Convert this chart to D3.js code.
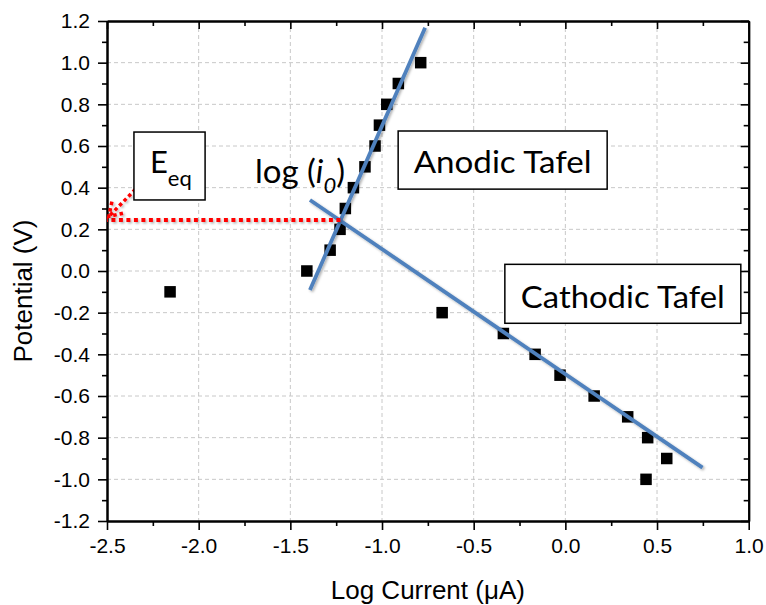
<!DOCTYPE html>
<html>
<head>
<meta charset="utf-8">
<script src="https://cdn.jsdelivr.net/npm/d3@7/dist/d3.min.js"></script>
<style>
  html, body { margin: 0; padding: 0; background: #fff; }
  svg { display: block; }
</style>
</head>
<body>
<svg id="chart" width="766" height="605"></svg>
<script>
// ---------------- data ----------------
const logCurrent = [-2.156, -1.41, -1.283, -1.229, -1.2, -1.156, -1.093, -1.038, -1.014, -0.974, -0.911, -0.789,
                    -0.672, -0.338, -0.165, -0.029, 0.157, 0.34, 0.449, 0.553, 0.44];
const potential  = [-0.1, 0.0, 0.1, 0.2, 0.3, 0.4, 0.5, 0.6, 0.7, 0.8, 0.9, 1.0,
                    -0.2, -0.3, -0.4, -0.5, -0.6, -0.7, -0.8, -0.9, -1.0];

const anodicFitX = [-1.393, -0.765];
const anodicFitY = [-0.091, 1.168];
const cathodicFitX = [-1.393, 0.748];
const cathodicFitY = [0.341, -0.944];

const xTickValues = [-2.5, -2.0, -1.5, -1.0, -0.5, 0.0, 0.5, 1.0];
const xTickLabels = ["-2.5", "-2.0", "-1.5", "-1.0", "-0.5", "0.0", "0.5", "1.0"];
const xMinorValues = [-2.25, -1.75, -1.25, -0.75, -0.25, 0.25, 0.75];
const yTickValues = [-1.2, -1.0, -0.8, -0.6, -0.4, -0.2, 0.0, 0.2, 0.4, 0.6, 0.8, 1.0, 1.2];
const yTickLabels = ["-1.2", "-1.0", "-0.8", "-0.6", "-0.4", "-0.2", "0.0", "0.2", "0.4", "0.6", "0.8", "1.0", "1.2"];
const yMinorValues = [-1.1, -0.9, -0.7, -0.5, -0.3, -0.1, 0.1, 0.3, 0.5, 0.7, 0.9, 1.1];

const xTitle = "Log Current (\u03BCA)";
const yTitle = "Potential (V)";

// annotations (data units)
const eqLevel = 0.245;            // equilibrium potential guide
const i0Log = -1.227;              // intersection of Tafel lines
const eqArrowFrom = [-2.345, 0.392];
const eqArrowTo = [-2.49, 0.262];
const boxEq = {x0: -2.353, x1: -1.965, y0: 0.667, y1: 0.341};
const boxAnodic = {x0: -0.912, x1: 0.228, y0: 0.672, y1: 0.393, label: "Anodic Tafel"};
const boxCathodic = {x0: -0.330, x1: 0.957, y0: 0.032, y1: -0.251, label: "Cathodic Tafel"};

// ---------------- layout ----------------
const svg = d3.select("#chart");
const L = 107, R = 748.7, T = 21, B = 521;
const x = d3.scaleLinear().domain([-2.5, 1.0]).range([L, R]);
const y = d3.scaleLinear().domain([-1.2, 1.2]).range([B, T]);

const tickFont = "'Liberation Sans', Arial, sans-serif";
const annFont = "Lato, 'Open Sans', sans-serif";

const defs = svg.append("defs");
const f = defs.append("filter").attr("id", "shadow").attr("filterUnits", "userSpaceOnUse")
  .attr("x", 0).attr("y", 0).attr("width", 766).attr("height", 605);
f.append("feDropShadow").attr("dx", 1.5).attr("dy", 1.5).attr("stdDeviation", 1.2)
  .attr("flood-color", "#000").attr("flood-opacity", 0.3);

// grid
const grid = svg.append("g").attr("stroke", "#c8c8c8").attr("stroke-width", 1).attr("stroke-dasharray", "4,3");
grid.selectAll("line.gx").data(xTickValues.slice(1, -1)).join("line")
  .attr("x1", d => x(d)).attr("x2", d => x(d)).attr("y1", T).attr("y2", B);
grid.selectAll("line.gy").data(yTickValues.slice(1, -1)).join("line")
  .attr("x1", L).attr("x2", R).attr("y1", d => y(d)).attr("y2", d => y(d));

// axes
function styleAxis(g) {
  g.selectAll("path.domain").attr("stroke", "#000").attr("stroke-width", 2);
  g.selectAll(".tick line").attr("stroke", "#000").attr("stroke-width", 1.6);
  g.selectAll("text").attr("font-family", tickFont).attr("font-size", 21).attr("fill", "#000");
}
const fmtX = d => xTickLabels[xTickValues.indexOf(d)];
const fmtY = d => yTickLabels[yTickValues.indexOf(d)];

svg.append("g").attr("transform", `translate(0,${B})`)
  .call(d3.axisBottom(x).tickValues(xTickValues).tickFormat(fmtX).tickSize(9).tickSizeOuter(0).tickPadding(8))
  .call(styleAxis);
svg.append("g").attr("transform", `translate(0,${B})`)
  .call(d3.axisBottom(x).tickValues(xMinorValues).tickFormat("").tickSize(5).tickSizeOuter(0))
  .call(styleAxis);
svg.append("g").attr("transform", `translate(${L},0)`)
  .call(d3.axisLeft(y).tickValues(yTickValues).tickFormat(fmtY).tickSize(9).tickSizeOuter(0).tickPadding(8))
  .call(styleAxis);
svg.append("g").attr("transform", `translate(${L},0)`)
  .call(d3.axisLeft(y).tickValues(yMinorValues).tickFormat("").tickSize(5).tickSizeOuter(0))
  .call(styleAxis);
svg.append("g").attr("transform", `translate(0,${T})`)
  .call(d3.axisTop(x).tickValues(xTickValues).tickFormat("").tickSize(-8).tickSizeOuter(0))
  .call(styleAxis);
svg.append("g").attr("transform", `translate(0,${T})`)
  .call(d3.axisTop(x).tickValues(xMinorValues).tickFormat("").tickSize(-5).tickSizeOuter(0))
  .call(styleAxis);
svg.append("g").attr("transform", `translate(${R},0)`)
  .call(d3.axisRight(y).tickValues(yTickValues).tickFormat("").tickSize(-8).tickSizeOuter(0))
  .call(styleAxis);
svg.append("g").attr("transform", `translate(${R},0)`)
  .call(d3.axisRight(y).tickValues(yMinorValues).tickFormat("").tickSize(-5).tickSizeOuter(0))
  .call(styleAxis);

// titles
svg.append("text").attr("x", (L + R) / 2).attr("y", 599).attr("text-anchor", "middle")
  .attr("font-family", tickFont).attr("font-size", 26).text(xTitle);
svg.append("text").attr("transform", `translate(32,291) rotate(-90)`).attr("text-anchor", "middle")
  .attr("font-family", tickFont).attr("font-size", 26).text(yTitle);

// data points
const pts = logCurrent.map((v, i) => ({x: v, y: potential[i]}));
const ms = 11.5;
svg.append("g").selectAll("rect").data(pts).join("rect")
  .attr("x", d => x(d.x) - ms / 2).attr("y", d => y(d.y) - ms / 2)
  .attr("width", ms).attr("height", ms).attr("fill", "#000");

// Tafel fit lines
const line = d3.line().x(d => x(d[0])).y(d => y(d[1]));
const blue = "#4f81bd";
svg.append("path").datum(anodicFitX.map((v, i) => [v, anodicFitY[i]]))
  .attr("d", line).attr("stroke", blue).attr("stroke-width", 3.8).attr("fill", "none").attr("filter", "url(#shadow)");
svg.append("path").datum(cathodicFitX.map((v, i) => [v, cathodicFitY[i]]))
  .attr("d", line).attr("stroke", blue).attr("stroke-width", 3.8).attr("fill", "none").attr("filter", "url(#shadow)");

// red dotted guide to E_eq
const red = "#ff0000";
svg.append("path").datum([[i0Log, eqLevel], [-2.5, eqLevel]])
  .attr("d", line).attr("stroke", red).attr("stroke-width", 4).attr("stroke-dasharray", "4,3.5")
  .attr("fill", "none").attr("filter", "url(#shadow)");
// diagonal dotted arrow
const ax0 = x(eqArrowFrom[0]), ay0 = y(eqArrowFrom[1]);
const ax1 = x(eqArrowTo[0]), ay1 = y(eqArrowTo[1]);
const ang = Math.atan2(ay1 - ay0, ax1 - ax0);
const wl = 15, wa = Math.PI / 5.5;
const w1 = [ax1 - wl * Math.cos(ang - wa), ay1 - wl * Math.sin(ang - wa)];
const w2 = [ax1 - wl * Math.cos(ang + wa), ay1 - wl * Math.sin(ang + wa)];
const arrowG = svg.append("g").attr("stroke", red).attr("stroke-width", 3.5).attr("stroke-dasharray", "3.5,3")
  .attr("fill", "none").attr("filter", "url(#shadow)");
arrowG.append("path").attr("d", `M${ax0},${ay0}L${ax1},${ay1}`);
arrowG.append("path").attr("d", `M${w1[0]},${w1[1]}L${ax1},${ay1}L${w2[0]},${w2[1]}`);

// boxes
function box(b) {
  svg.append("rect").attr("x", x(b.x0)).attr("y", y(b.y0))
    .attr("width", x(b.x1) - x(b.x0)).attr("height", y(b.y1) - y(b.y0))
    .attr("fill", "#fff").attr("stroke", "#000").attr("stroke-width", 1.5);
}
box(boxEq); box(boxAnodic); box(boxCathodic);

svg.append("text").attr("x", (x(boxAnodic.x0) + x(boxAnodic.x1)) / 2)
  .attr("y", (y(boxAnodic.y0) + y(boxAnodic.y1)) / 2 + 12.5)
  .attr("text-anchor", "middle").attr("font-family", annFont).attr("font-size", 31)
  .attr("textLength", 178).attr("lengthAdjust", "spacingAndGlyphs").text(boxAnodic.label);
svg.append("text").attr("x", (x(boxCathodic.x0) + x(boxCathodic.x1)) / 2)
  .attr("y", (y(boxCathodic.y0) + y(boxCathodic.y1)) / 2 + 14.5)
  .attr("text-anchor", "middle").attr("font-family", annFont).attr("font-size", 31)
  .attr("textLength", 204).attr("lengthAdjust", "spacingAndGlyphs").text(boxCathodic.label);

// E_eq
const eqT = svg.append("text").attr("x", x(boxEq.x0) + 16).attr("y", y(boxEq.y0) + 41)
  .attr("font-family", annFont).attr("font-size", 31);
eqT.append("tspan").text("E");
eqT.append("tspan").attr("font-size", 22).attr("dy", 13).text("eq");

// log (i0)
const li = svg.append("text").attr("x", 255).attr("y", 183)
  .attr("font-family", annFont).attr("font-size", 33);
li.append("tspan").text("log (");
li.append("tspan").attr("font-style", "italic").text("i");
li.append("tspan").attr("font-style", "italic").attr("font-size", 22).attr("dy", 10).text("0");
li.append("tspan").attr("dy", -10).text(")");
</script>
</body>
</html>
